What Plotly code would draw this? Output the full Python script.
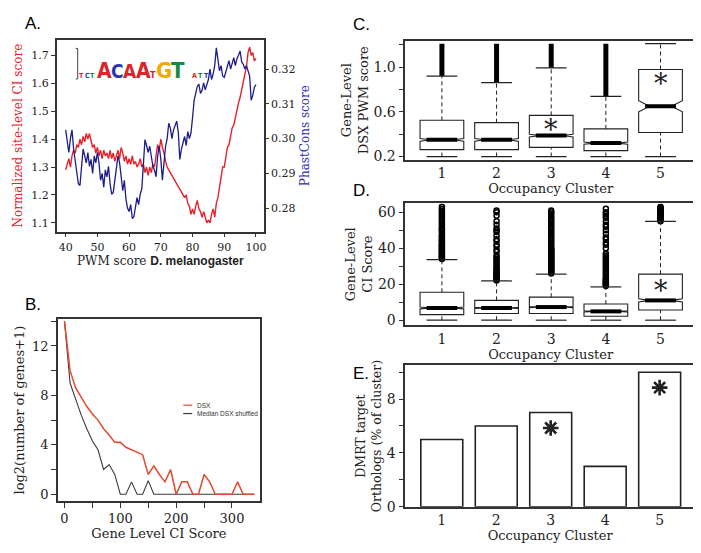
import plotly.graph_objects as go

W, H = 701, 553

# ---------------- Panel A: sliding-window curves (x step 0.5 from 40 to 100)
red_ci = [
    1.29, 1.31, 1.33, 1.30, 1.34, 1.36, 1.35, 1.38, 1.37, 1.40,
    1.38, 1.41, 1.39, 1.42, 1.40, 1.42, 1.39, 1.37, 1.38, 1.35,
    1.37, 1.34, 1.36, 1.33, 1.36, 1.34, 1.35, 1.33, 1.36, 1.33,
    1.35, 1.32, 1.34, 1.36, 1.33, 1.37, 1.35, 1.32, 1.34, 1.31,
    1.33, 1.31, 1.34, 1.31, 1.32, 1.30, 1.31, 1.33, 1.30, 1.31,
    1.28, 1.30, 1.27, 1.30, 1.28, 1.31, 1.30, 1.34, 1.38, 1.36,
    1.40, 1.37, 1.35, 1.32, 1.30, 1.29, 1.28, 1.27, 1.26, 1.25,
    1.24, 1.23, 1.22, 1.21, 1.20, 1.19, 1.20, 1.17, 1.16, 1.13,
    1.15, 1.13, 1.16, 1.18, 1.15, 1.14, 1.12, 1.14, 1.12, 1.10,
    1.11, 1.10, 1.13, 1.15, 1.12, 1.17, 1.19, 1.23, 1.27, 1.30,
    1.30, 1.34, 1.37, 1.38, 1.41, 1.44, 1.45, 1.48, 1.50, 1.53,
    1.55, 1.58, 1.60, 1.64, 1.66, 1.71, 1.73, 1.70, 1.71, 1.68,
    1.69,
]
blue_phastcons = [
    0.3025, 0.299, 0.296, 0.300, 0.3025, 0.297, 0.294, 0.291, 0.287, 0.2865,
    0.291, 0.297, 0.295, 0.293, 0.296, 0.292, 0.294, 0.290, 0.295, 0.293,
    0.296, 0.293, 0.288, 0.290, 0.286, 0.291, 0.289, 0.292, 0.287, 0.284,
    0.2845, 0.288, 0.292, 0.295, 0.293, 0.289, 0.285, 0.288, 0.2826, 0.280,
    0.279, 0.281, 0.277, 0.2775, 0.280, 0.283, 0.281, 0.284, 0.2855, 0.292,
    0.2997, 0.298, 0.296, 0.2978, 0.294, 0.292, 0.291, 0.289, 0.295, 0.2978,
    0.294, 0.288, 0.293, 0.2978, 0.300, 0.3044, 0.303, 0.300, 0.3025, 0.304,
    0.305, 0.302, 0.294, 0.297, 0.299, 0.3006, 0.298, 0.302, 0.300, 0.3016,
    0.306, 0.311, 0.313, 0.315, 0.3157, 0.313, 0.3139, 0.316, 0.314, 0.3157,
    0.317, 0.320, 0.317, 0.3186, 0.321, 0.3261, 0.323, 0.3195, 0.321, 0.318,
    0.3176, 0.319, 0.321, 0.3224, 0.320, 0.322, 0.3233, 0.321, 0.323, 0.3240,
    0.3252, 0.322, 0.3214, 0.320, 0.321, 0.3195, 0.318, 0.311, 0.3125, 0.3148,
    0.3155,
]
pwm_score = [40 + 0.5 * i for i in range(len(red_ci))]

# ---------------- Panel B
ci_bins = [0, 10, 20, 30, 40, 50, 60, 70, 80, 90, 100, 110, 120, 130, 140, 150, 160,
           170, 180, 190, 200, 210, 220, 230, 240, 250, 260, 270, 280, 290, 300,
           310, 320, 330, 340]
dsx_log2 = [14.0, 10.0, 8.6, 7.8, 7.1, 6.5, 6.0, 5.3, 4.8, 4.2, 4.2, 3.8, 3.6, 3.4,
            3.2, 1.6, 2.3, 1.6, 1.0, 2.0, 0, 1.0, 1.0, 0, 0, 1.6, 1.0, 0, 0, 0, 0,
            1.0, 0, 0, 0]
shuffled_log2 = [14.0, 9.0, 7.7, 6.4, 5.3, 4.3, 3.6, 2.0, 2.4, 1.6, 0, 0, 1.0, 0, 0,
                 1.1, 0, 0, 0, 0, 0, 0, 0, 0, 0, 0, 0, 0, 0, 0, 0, 0, 0, 0, 0]

# ---------------- Panel C: gene-level DSX PWM score by cluster
clusters = [1, 2, 3, 4, 5]
pwm_q1 = [0.262, 0.262, 0.282, 0.253, 0.415]
pwm_med = [0.35, 0.35, 0.388, 0.32, 0.65]
pwm_q3 = [0.524, 0.503, 0.568, 0.447, 0.979]
pwm_lo = [0.2, 0.2, 0.2, 0.2, 0.2]
pwm_hi = [0.92, 0.862, 0.994, 0.738, 1.21]
pwm_notch = [0.012, 0.012, 0.012, 0.01, 0.05]
pwm_out_max = [1.21, 1.21, 1.21, 1.21, None]
pwm_star_x = [3, 5]
pwm_star_y = [0.465, 0.876]

# ---------------- Panel D: gene-level CI score by cluster
ci_q1 = [3.1, 3.7, 3.7, 2.2, 5.7]
ci_med = [6.8, 6.8, 7.3, 4.9, 11.0]
ci_q3 = [15.5, 11.0, 12.8, 9.0, 25.6]
ci_lo = [0, 0, 0, 0, 0]
ci_hi = [33.7, 21.8, 25.6, 18.5, 54.9]
ci_notch = [0.5, 0.3, 0.3, 0.3, 0.9]
ci_out_1 = [34, 34.5, 35, 35.5, 36, 36.5, 37, 37.5, 38, 38.5, 39, 39.5, 40, 40.5, 41,
            41.5, 42, 42.5, 43, 44, 44.5, 45, 46, 46.5, 47, 48, 49, 50, 50.5, 51, 52,
            53, 54, 55, 56, 57, 58, 59, 60, 61, 62, 63]
ci_out_2 = [22, 22.5, 23, 23.5, 24, 24.5, 25, 25.5, 26, 26.5, 27, 28, 28.5, 29, 30,
            31, 32, 33, 34, 35, 36, 38, 39, 41, 42, 44, 45, 47, 49, 50, 51, 53, 55,
            58, 60, 61]
ci_out_3 = [26, 26.5, 27, 27.5, 28, 28.5, 29, 29.5, 30, 30.5, 31, 31.5, 32, 32.5, 33,
            33.5, 34, 34.5, 35, 35.5, 36, 36.5, 37, 37.5, 38, 38.5, 39, 39.5, 40, 41,
            42, 43, 44, 45, 46, 47, 48, 49, 50, 51, 52, 53, 54, 55, 56, 57, 58, 59,
            60, 61]
ci_out_4 = [19, 19.5, 20, 20.5, 21, 21.5, 22, 22.5, 23, 24, 25, 26, 27, 28, 29, 30, 31,
            32, 33, 34, 35, 36, 37, 40, 42, 43, 45, 46, 48, 50, 52, 53, 55, 57, 58, 59,
            60, 62]
ci_out_5 = [55, 55.5, 56, 56.5, 57, 57.5, 58, 58.5, 59, 59.5, 60, 60.5, 61, 61.5, 62,
            62.5, 63]
ci_star_x = [5]
ci_star_y = [17.9]

# ---------------- Panel E: DMRT target orthologs
dmrt_pct = [5.0, 6.0, 7.0, 3.0, 10.0]
dmrt_star_x = [3, 5]
dmrt_star_y = [5.85, 8.85]

INK = "#222222"
RED = "#e8202a"
BLUE = "#1c1c8a"
SERIF = "DejaVu Serif"
SANS = "Liberation Sans"


def px(x):
    return x / W


def py(y):
    return 1 - y / H


fig = go.Figure()

# ---- A
fig.add_trace(go.Scatter(x=pwm_score, y=red_ci, mode="lines",
                         line=dict(color=RED, width=1.4), xaxis="x", yaxis="y"))
fig.add_trace(go.Scatter(x=pwm_score, y=blue_phastcons, mode="lines",
                         line=dict(color=BLUE, width=1.3), xaxis="x", yaxis="y2"))

# ---- B
fig.add_trace(go.Scatter(x=ci_bins, y=shuffled_log2, mode="lines",
                         line=dict(color="#3a3a3a", width=1.1), xaxis="x2", yaxis="y3"))
fig.add_trace(go.Scatter(x=ci_bins, y=dsx_log2, mode="lines",
                         line=dict(color="#e4482e", width=1.5), xaxis="x2", yaxis="y3"))


def whisker_xy(lo, q1, q3, hi):
    xs, ys = [], []
    for c, a, b, d, e in zip(clusters, lo, q1, q3, hi):
        xs += [c, c, None, c, c, None]
        ys += [a, b, None, d, e, None]
    return xs, ys


def add_boxes(q1, med, q3, lo, hi, notch, xa, ya):
    wx, wy = whisker_xy(lo, q1, q3, hi)
    fig.add_trace(go.Scatter(x=wx, y=wy, mode="lines",
                             line=dict(color=INK, width=1, dash="4px,3px"),
                             xaxis=xa, yaxis=ya))
    fig.add_trace(go.Box(x=clusters, q1=q1, median=med, q3=q3,
                         lowerfence=q1, upperfence=q3, notched=True,
                         notchspan=notch, notchwidth=0.25, width=0.8,
                         orientation="v", boxpoints=False, whiskerwidth=0,
                         fillcolor="white", line=dict(color=INK, width=1.1),
                         xaxis=xa, yaxis=ya))
    fig.add_trace(go.Scatter(x=clusters + clusters, y=lo + hi, mode="markers",
                             marker=dict(symbol="line-ew", size=22, color=INK,
                                         line=dict(color=INK, width=1.2)),
                             xaxis=xa, yaxis=ya))
    fig.add_trace(go.Scatter(x=clusters, y=med, mode="markers",
                             marker=dict(symbol="line-ew", size=22, color="black",
                                         line=dict(color="black", width=4)),
                             xaxis=xa, yaxis=ya))


# ---- C
ox, oy = [], []
for c, h, m in zip(clusters, pwm_hi, pwm_out_max):
    if m is not None:
        ox += [c, c, None]
        oy += [h, m, None]
fig.add_trace(go.Scatter(x=ox, y=oy, mode="lines", line=dict(color="black", width=5),
                         xaxis="x3", yaxis="y4"))
add_boxes(pwm_q1, pwm_med, pwm_q3, pwm_lo, pwm_hi, pwm_notch, "x3", "y4")

# ---- D
outs = [ci_out_1, ci_out_2, ci_out_3, ci_out_4, ci_out_5]
dx, dy = [], []
for c, vals in zip(clusters, outs):
    dx += [c] * len(vals)
    dy += vals
fig.add_trace(go.Scatter(x=dx, y=dy, mode="markers",
                         marker=dict(symbol="circle-open", size=5, color="black",
                                     line=dict(color="black", width=1.5)),
                         xaxis="x4", yaxis="y5"))
add_boxes(ci_q1, ci_med, ci_q3, ci_lo, ci_hi, ci_notch, "x4", "y5")

# ---- E
fig.add_trace(go.Bar(x=clusters, y=dmrt_pct, width=0.77,
                     marker=dict(color="white", line=dict(color=INK, width=1.6)),
                     xaxis="x5", yaxis="y6"))
fig.add_trace(go.Scatter(x=dmrt_star_x, y=dmrt_star_y, mode="markers",
                         marker=dict(symbol="asterisk-open", size=13, color=INK,
                                     line=dict(color=INK, width=2.6)),
                         xaxis="x5", yaxis="y6"))

annotations = []
for sx, sy in zip(pwm_star_x, pwm_star_y):
    annotations.append(dict(x=sx, y=sy, xref="x3", yref="y4", text="*", showarrow=False,
                            yshift=-3, font=dict(family=SERIF, size=27, color=INK)))
for sx, sy in zip(ci_star_x, ci_star_y):
    annotations.append(dict(x=sx, y=sy, xref="x4", yref="y5", text="*", showarrow=False,
                            yshift=-3, font=dict(family=SERIF, size=27, color=INK)))

# panel letters
for lab, lx, ly in [("A.", 25, 16), ("B.", 25, 301), ("C.", 355, 17),
                    ("D.", 355, 185), ("E.", 355, 371)]:
    annotations.append(dict(x=px(lx), y=py(ly), xref="paper", yref="paper", text=lab,
                            showarrow=False, font=dict(family=SANS, size=17, color="black"),
                            xanchor="center", yanchor="middle"))

# sequence logo in panel A
LOGO_FONT = "Liberation Sans Narrow, DejaVu Sans Condensed, Liberation Sans"
logo = [("A", 97, "#d8262a", 21), ("C", 110, "#2a36b0", 19), ("A", 123, "#d8262a", 19),
        ("A", 136, "#d8262a", 21), ("T", 146, "#d8262a", 9), ("G", 156.5, "#f2a900", 22),
        ("T", 170.5, "#168a3e", 22)]
for ch, lx, col, size in logo:
    annotations.append(dict(x=px(lx), y=py(71 - 0.36 * size), xref="paper", yref="paper",
                            text="<b>%s</b>" % ch, showarrow=False, borderpad=0,
                            font=dict(family=LOGO_FONT, size=size, color=col),
                            xanchor="center", yanchor="middle"))
small = [("T", 74, "#d8262a"), ("C", 79.5, "#2a36b0"), ("T", 85, "#168a3e"),
         ("A", 187, "#d8262a"), ("T", 193, "#168a3e"), ("T", 199, "#2a36b0")]
for ch, lx, col in small:
    annotations.append(dict(x=px(lx), y=py(69), xref="paper", yref="paper",
                            text="<b>%s</b>" % ch, showarrow=False, borderpad=0,
                            font=dict(family=LOGO_FONT, size=7, color=col),
                            xanchor="center", yanchor="middle"))

# legend of panel B
annotations.append(dict(x=px(188), y=py(403), xref="paper", yref="paper", text="DSX",
                        showarrow=False, xanchor="left", yanchor="middle",
                        font=dict(family=SANS, size=6.5, color="#333")))
annotations.append(dict(x=px(188), y=py(411.5), xref="paper", yref="paper",
                        text="Median DSX shuffled", showarrow=False, xanchor="left",
                        yanchor="middle", font=dict(family=SANS, size=6.5, color="#333")))

shapes = [
    dict(type="line", xref="paper", yref="paper", x0=px(176), x1=px(185), y0=py(403),
         y1=py(403), line=dict(color="#e4482e", width=1.2)),
    dict(type="line", xref="paper", yref="paper", x0=px(176), x1=px(185), y0=py(411.5),
         y1=py(411.5), line=dict(color="#3a3a3a", width=1.2)),
    dict(type="path", xref="paper", yref="paper",
         path="M %f,%f L %f,%f L %f,%f L %f,%f" % (px(68), py(41), px(70), py(41),
                                                     px(70), py(72), px(68), py(72)),
         line=dict(color="#444", width=1)),
]

axis_common = dict(showline=True, linecolor="#333", linewidth=1.5, mirror=True,
                   ticks="outside", ticklen=5, tickwidth=1, tickcolor="#333",
                   showgrid=False, zeroline=False,
                   tickfont=dict(family=SERIF, size=14, color=INK))


def ax(**kw):
    d = dict(axis_common)
    d.update(kw)
    return d


cluster_x = dict(tickvals=clusters, ticktext=[str(c) for c in clusters], ticks="",
                 range=[0.33, 5.65],
                 title=dict(text="Occupancy Cluster", standoff=2,
                            font=dict(family=SERIF, size=13, color=INK)))

fig.update_layout(
    width=W, height=H, margin=dict(l=0, r=0, t=0, b=0),
    plot_bgcolor="white", paper_bgcolor="white", showlegend=False,
    font=dict(family=SERIF, color=INK),
    annotations=annotations, shapes=shapes,
    # A
    xaxis=ax(domain=[px(49), px(257)], anchor="y", range=[37.2, 102.5], ticklen=4,
             tickvals=[40, 50, 60, 70, 80, 90, 100],
             tickfont=dict(family=SERIF, size=11, color=INK),
             title=dict(text='PWM score <span style="font-family:Liberation Sans;'
                             'font-weight:bold">D. melanogaster</span>',
                        standoff=0, font=dict(family=SERIF, size=12, color=INK))),
    yaxis=ax(domain=[py(227), py(32)], anchor="x", range=[1.068, 1.757], ticklen=4,
             tickvals=[1.1, 1.2, 1.3, 1.4, 1.5, 1.6, 1.7], tickformat=".1f",
             tickfont=dict(family=SERIF, size=11, color=INK),
             title=dict(text="Normalized site-level CI score", standoff=6,
                        font=dict(family=SERIF, size=12, color=RED))),
    yaxis2=dict(overlaying="y", side="right", anchor="x", range=[0.2732, 0.3285],
                showline=False, showgrid=False, zeroline=False, ticks="outside",
                ticklen=4, tickcolor="#333",
                tickvals=[0.28, 0.29, 0.30, 0.31, 0.32], tickformat=".2f",
                tickfont=dict(family=SERIF, size=11, color=INK),
                title=dict(text="PhastCons score", standoff=6,
                           font=dict(family=SERIF, size=12, color="#2e2eb0"))),
    # B
    xaxis2=ax(domain=[px(50), px(253)], anchor="y3", range=[-12, 350],
              tickvals=[0, 50, 100, 150, 200, 250, 300],
              ticktext=["0", "", "100", "", "200", "", "300"],
              tickfont=dict(family=SERIF, size=13, color=INK),
              title=dict(text="Gene Level CI Score", standoff=2,
                         font=dict(family=SERIF, size=13, color=INK))),
    yaxis3=ax(domain=[py(500), py(316)], anchor="x2", range=[-0.53, 14.15],
              tickvals=[0, 2, 4, 6, 8, 10, 12, 14],
              ticktext=["0", "", "4", "", "8", "", "12", ""],
              tickfont=dict(family=SERIF, size=13, color=INK),
              title=dict(text="log2(number of genes+1)", standoff=4,
                         font=dict(family=SERIF, size=13, color=INK))),
    # C
    xaxis3=ax(domain=[px(399), px(691)], anchor="y4", **cluster_x),
    yaxis4=ax(domain=[py(154), py(33)], anchor="x3", range=[0.171, 1.238],
              tickvals=[0.2, 0.4, 0.6, 0.8, 1.0, 1.2],
              ticktext=["0.2", "", "0.6", "", "1.0", ""],
              title=dict(text="Gene-Level<br>DSX PWM score", standoff=2,
                         font=dict(family=SERIF, size=13, color=INK))),
    # D
    xaxis4=ax(domain=[px(399), px(691)], anchor="y5", **cluster_x),
    yaxis5=ax(domain=[py(321.7), py(198.3)], anchor="x4", range=[-2.7, 64.9],
              tickvals=[0, 10, 20, 30, 40, 50, 60],
              ticktext=["0", "", "20", "", "40", "", "60"],
              title=dict(text="Gene-Level<br>CI Score", standoff=2,
                         font=dict(family=SERIF, size=13, color=INK))),
    # E
    xaxis5=ax(domain=[px(399), px(690)], anchor="y6", **cluster_x),
    yaxis6=ax(domain=[py(506), py(362.7)], anchor="x5", range=[0, 10.5],
              tickvals=[0, 2, 4, 6, 8, 10],
              ticktext=["0", "", "4", "", "8", ""],
              title=dict(text="DMRT target<br>Orthologs (% of cluster)", standoff=2,
                         font=dict(family=SERIF, size=12.5, color=INK))),
)

fig.write_html("out.html")
